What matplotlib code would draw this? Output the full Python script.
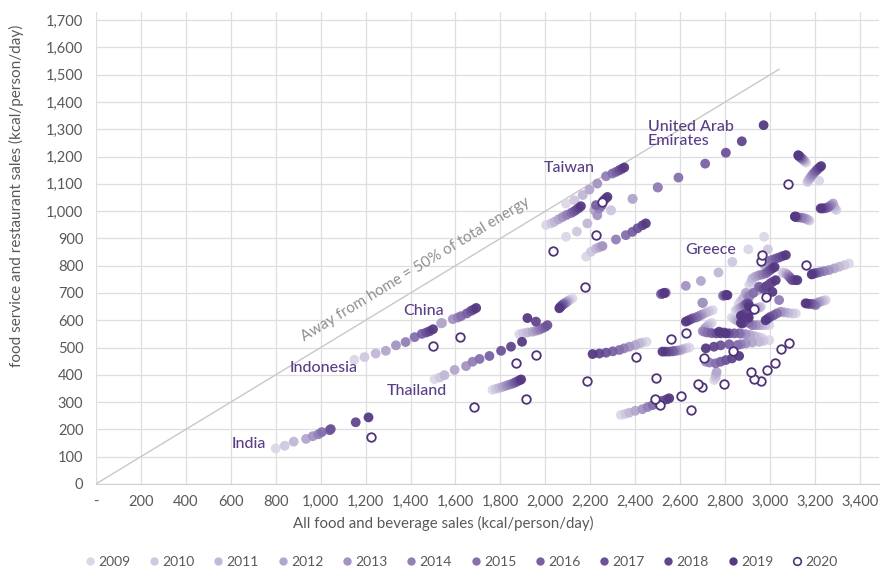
import numpy as np
import matplotlib
matplotlib.use("Agg")
import matplotlib.pyplot as plt
from matplotlib.lines import Line2D

plt.rcParams['font.family'] = ['Lato', 'DejaVu Sans']

years = [2009, 2010, 2011, 2012, 2013, 2014, 2015, 2016, 2017, 2018, 2019, 2020]

# (all food & beverage kcal, food service kcal) per year, 2009..2020
india = [(800, 130), (840, 140), (880, 155), (935, 165), (965, 175), (990, 182), (1005, 190), (1040, 197), (1045, 201), (1156, 226), (1213, 244), (1225, 173)]
indonesia = [(1150, 455), (1195, 465), (1245, 478), (1290, 488), (1335, 508), (1378, 520), (1418, 538), (1450, 550), (1470, 555), (1485, 560), (1500, 567), (1500, 505)]
china = [(1536, 589), (1536, 589), (1536, 589), (1540, 590), (1588, 604), (1610, 610), (1625, 615), (1650, 625), (1668, 634), (1680, 639), (1692, 645), (1618, 540)]
thailand = [(1507, 384), (1530, 390), (1551, 399), (1596, 418), (1647, 432), (1676, 448), (1707, 458), (1751, 469), (1803, 488), (1847, 503), (1896, 521), (1914, 311)]
market_e = [(1884, 549), (1900, 552), (1920, 555), (1942, 558), (1960, 562), (1975, 566), (1988, 571), (2000, 576), (2009, 582), (1958, 595), (1920, 608), (1870, 445)]
market_f = [(1765, 345), (1780, 349), (1795, 352), (1810, 356), (1825, 360), (1840, 364), (1855, 368), (1865, 372), (1875, 376), (1885, 380), (1892, 383), (1681, 281)]
market_g = [(2120, 680), (2107, 674), (2100, 670), (2095, 667), (2090, 664), (2085, 661), (2080, 659), (2076, 656), (2070, 652), (2066, 648), (2062, 644), (1956, 472)]
taiwan = [(2092, 1028), (2129, 1040), (2166, 1059), (2196, 1079), (2231, 1101), (2270, 1128), (2298, 1138), (2315, 1144), (2329, 1150), (2340, 1155), (2351, 1160), (2254, 1034)]
market_j = [(2003, 949), (2025, 955), (2040, 961), (2058, 970), (2076, 978), (2095, 986), (2114, 993), (2125, 998), (2136, 1004), (2148, 1011), (2158, 1018), (2032, 855)]
market_k = [(2092, 906), (2140, 925), (2187, 955), (2218, 1004), (2231, 985), (2240, 1010), (2250, 1020), (2225, 1022), (2260, 1040), (2268, 1046), (2276, 1052), (2225, 912)]
uae = [(2292, 1003), (2292, 1003), (2388, 1045), (2388, 1045), (2500, 1087), (2500, 1087), (2592, 1123), (2711, 1174), (2803, 1214), (2874, 1256), (2971, 1315), (2958, 818)]
market_l = [(2181, 833), (2203, 851), (2225, 863), (2240, 868), (2254, 872), (2314, 896), (2358, 912), (2387, 924), (2410, 937), (2432, 948), (2447, 955), (2176, 723)]
market_m = [(3160, 1178), (3155, 1182), (3152, 1185), (3148, 1188), (3145, 1190), (3140, 1193), (3136, 1196), (3133, 1199), (3130, 1201), (3127, 1203), (3125, 1205), (3081, 1098)]
market_n = [(3218, 1111), (3166, 1107), (3172, 1115), (3178, 1122), (3185, 1130), (3192, 1137), (3200, 1144), (3207, 1150), (3213, 1155), (3220, 1160), (3227, 1165), (3158, 802)]
market_o = [(3295, 1004), (3290, 1008), (3285, 1015), (3280, 1028), (3272, 1022), (3265, 1018), (3258, 1014), (3250, 1012), (3240, 1010), (3232, 1010), (3225, 1010), (3084, 515)]
market_p = [(3175, 965), (3170, 967), (3165, 970), (3160, 972), (3150, 974), (3140, 976), (3125, 977), (3118, 978), (3115, 979), (3112, 980), (3110, 980), (3047, 493)]
greece = [(2903, 860), (2832, 814), (2770, 775), (2692, 744), (2625, 726), (2536, 701), (2514, 696), (2518, 697), (2522, 698), (2526, 699), (2530, 700), (2492, 389)]
market_s1 = [(2973, 906), (2990, 860), (2975, 800), (2981, 805), (2990, 812), (3000, 818), (3010, 822), (3025, 826), (3040, 830), (3055, 835), (3070, 839), (2966, 839)]
market_s2 = [(2907, 729), (2915, 740), (2921, 753), (2935, 760), (2951, 765), (2966, 768), (2981, 772), (2990, 778), (3000, 784), (3010, 790), (3020, 795), (2981, 686)]
market_s3 = [(2860, 660), (2870, 670), (2880, 680), (2892, 700), (2900, 690), (2907, 686), (2925, 700), (2951, 723), (2970, 715), (2981, 723), (3010, 704), (2929, 643)]
market_s4 = [(3055, 775), (3060, 773), (3070, 772), (3075, 768), (3080, 764), (3085, 760), (3090, 755), (3095, 750), (3099, 747), (3110, 747), (3121, 747), (3022, 444)]
market_s5 = [(3351, 808), (3330, 802), (3307, 796), (3285, 790), (3262, 784), (3240, 780), (3220, 776), (3205, 773), (3196, 772), (3190, 770), (3185, 768), (2985, 418)]
market_s6 = [(3247, 674), (3240, 672), (3230, 670), (3220, 667), (3210, 664), (3203, 656), (3195, 658), (3185, 660), (3175, 660), (3165, 661), (3158, 662), (2958, 377)]
market_s7 = [(3114, 625), (3099, 625), (3080, 627), (3062, 629), (3047, 631), (3040, 674), (3030, 625), (3015, 618), (3000, 612), (2990, 606), (2980, 600), (2929, 385)]
market_s8 = [(2996, 582), (2980, 582), (2965, 582), (2950, 582), (2935, 582), (2921, 582), (2905, 590), (2892, 600), (2880, 595), (2876, 588), (2870, 590), (2914, 409)]
market_s9 = [(2966, 534), (2950, 538), (2930, 542), (2910, 546), (2890, 549), (2870, 551), (2862, 552), (2840, 552), (2818, 552), (2795, 555), (2773, 558), (2836, 487)]
market_s10 = [(2640, 500), (2625, 497), (2610, 494), (2603, 491), (2590, 489), (2580, 488), (2570, 487), (2566, 486), (2550, 485), (2535, 485), (2521, 485), (2403, 466)]
market_s11 = [(2996, 527), (2970, 524), (2951, 521), (2920, 518), (2892, 515), (2870, 512), (2855, 509), (2818, 512), (2780, 508), (2750, 503), (2714, 497), (2707, 460)]
market_s12 = [(2751, 381), (2758, 390), (2758, 399), (2762, 410), (2714, 448), (2730, 445), (2758, 442), (2780, 448), (2803, 454), (2830, 460), (2862, 469), (2796, 366)]
market_s13 = [(2740, 590), (2730, 585), (2720, 578), (2710, 570), (2700, 560), (2707, 558), (2720, 555), (2740, 553), (2760, 552), (2780, 552), (2803, 552), (2625, 554)]
market_s14 = [(2744, 637), (2730, 633), (2715, 628), (2700, 622), (2690, 618), (2680, 614), (2670, 610), (2655, 607), (2645, 603), (2635, 599), (2625, 595), (2561, 531)]
market_s15 = [(2699, 664), (2699, 664), (2699, 664), (2700, 664), (2700, 664), (2790, 690), (2795, 690), (2800, 692), (2803, 692), (2805, 692), (2810, 692), (2699, 356)]
market_s16 = [(2847, 637), (2855, 640), (2862, 643), (2870, 646), (2878, 650), (2885, 654), (2890, 657), (2895, 660), (2900, 662), (2905, 658), (2907, 650), (2680, 366)]
market_s17 = [(2450, 521), (2430, 518), (2418, 515), (2400, 509), (2374, 503), (2350, 497), (2329, 491), (2300, 486), (2270, 481), (2240, 478), (2210, 476), (2184, 377)]
market_s18 = [(2336, 253), (2355, 257), (2373, 261), (2400, 268), (2432, 274), (2455, 282), (2477, 289), (2500, 297), (2521, 305), (2540, 310), (2551, 314), (2511, 289)]
market_s19 = [(2925, 700), (2935, 705), (2945, 710), (2955, 714), (2965, 718), (2975, 720), (2981, 723), (2990, 728), (3000, 735), (3010, 740), (3025, 747), (2603, 323)]
market_s20 = [(2830, 610), (2840, 605), (2850, 600), (2860, 598), (2870, 596), (2876, 594), (2884, 592), (2890, 600), (2895, 605), (2900, 608), (2905, 610), (2650, 271)]
market_s21 = [(2960, 650), (2955, 648), (2950, 646), (2940, 644), (2930, 640), (2920, 636), (2910, 632), (2900, 628), (2890, 624), (2880, 620), (2870, 616), (2487, 312)]

markets = [india, indonesia, china, thailand, market_e, market_f, market_g, taiwan,
           market_j, market_k, uae, market_l, market_m, market_n, market_o, market_p,
           greece, market_s1, market_s2, market_s3, market_s4, market_s5, market_s6,
           market_s7, market_s8, market_s9, market_s10, market_s11, market_s12,
           market_s13, market_s14, market_s15, market_s16, market_s17, market_s18,
           market_s19, market_s20, market_s21]

year_colors = ['#dcd7e8', '#cfc8e0', '#c2b8d7', '#b3a7cd', '#a393c2', '#9380b7',
               '#856fad', '#7861a3', '#6c5399', '#61468e', '#553a83', '#4f3378']

label_color = '#5a3f86'

fig = plt.figure(figsize=(8.8, 5.7), dpi=100)
ax = fig.add_axes([0.109, 0.151, 0.890, 0.828])

data = np.array(markets, dtype=float)  # market x year x (total, away)

for i, yr in enumerate(years):
    xs = data[:, i, 0]
    ys = data[:, i, 1]
    if yr == 2020:
        ax.scatter(xs, ys, s=38, facecolors='white', edgecolors=year_colors[i],
                   linewidths=1.3, zorder=3 + i)
    else:
        ax.scatter(xs, ys, s=50, color=year_colors[i], edgecolors='none',
                   alpha=0.95, zorder=3 + i)

# 50% reference line
ax.plot([0, 3040], [0, 1520], color='#c8c8c8', lw=1.0, zorder=2)
ax.text(1420, 786, 'Away from home = 50% of total energy', rotation=np.degrees(np.arctan(0.5)),
        transform_rotates_text=True, rotation_mode='anchor', ha='center', va='center',
        fontsize=11, color='#8f8f8f')

ax.set_xlim(0, 3485)
ax.set_ylim(0, 1730)
ax.set_xticks(np.arange(0, 3401, 200))
ax.set_xticklabels(['-'] + [f'{v:,}' for v in range(200, 3401, 200)])
ax.set_yticks(np.arange(0, 1701, 100))
ax.set_yticklabels([f'{v:,}' for v in range(0, 1701, 100)])
ax.tick_params(length=0, labelsize=10.5, colors='#595959')
ax.tick_params(axis='y', pad=9)
ax.tick_params(axis='x', pad=8)
ax.grid(True, color='#dedede', lw=0.9, zorder=0)
ax.set_axisbelow(True)
for side in ['top', 'right', 'left']:
    ax.spines[side].set_visible(False)
ax.spines['bottom'].set_color('#cfcfcf')

ax.set_xlabel('All food and beverage sales (kcal/person/day)', fontsize=10.8, color='#595959')
ax.set_ylabel('food service and restaurant sales (kcal/person/day)', fontsize=11, color='#595959')
ax.xaxis.set_label_coords(0.443, -0.068)
ax.yaxis.set_label_coords(-0.092, 0.61)

# market labels
lbl = dict(fontsize=11.5, color=label_color, fontweight='medium')
ax.text(757, 147, 'India', ha='right', va='center', **lbl)
ax.text(1015, 425, 'Indonesia', ha='center', va='center', **lbl)
ax.text(1460, 634, 'China', ha='center', va='center', **lbl)
ax.text(1429, 341, 'Thailand', ha='center', va='center', **lbl)
ax.text(2105, 1158, 'Taiwan', ha='center', va='center', **lbl)
ax.text(2457, 1284, 'United Arab\nEmirates', ha='left', va='center', linespacing=1.0, **lbl)
ax.text(2737, 857, 'Greece', ha='center', va='center', **lbl)

handles = []
for i, yr in enumerate(years):
    if yr == 2020:
        h = Line2D([], [], ls='none', marker='o', markersize=5.5, markerfacecolor='white',
                   markeredgecolor=year_colors[i], markeredgewidth=1.2)
    else:
        h = Line2D([], [], ls='none', marker='o', markersize=6, markerfacecolor=year_colors[i],
                   markeredgecolor='none')
    handles.append(h)
fig.legend(handles, [str(y) for y in years], loc='center', bbox_to_anchor=(0.523, 0.014),
           ncol=12, frameon=False, fontsize=10, handletextpad=0.1, columnspacing=1.2,
           labelcolor='#595959', handlelength=1.0)

fig.savefig('out.png', dpi=100)
